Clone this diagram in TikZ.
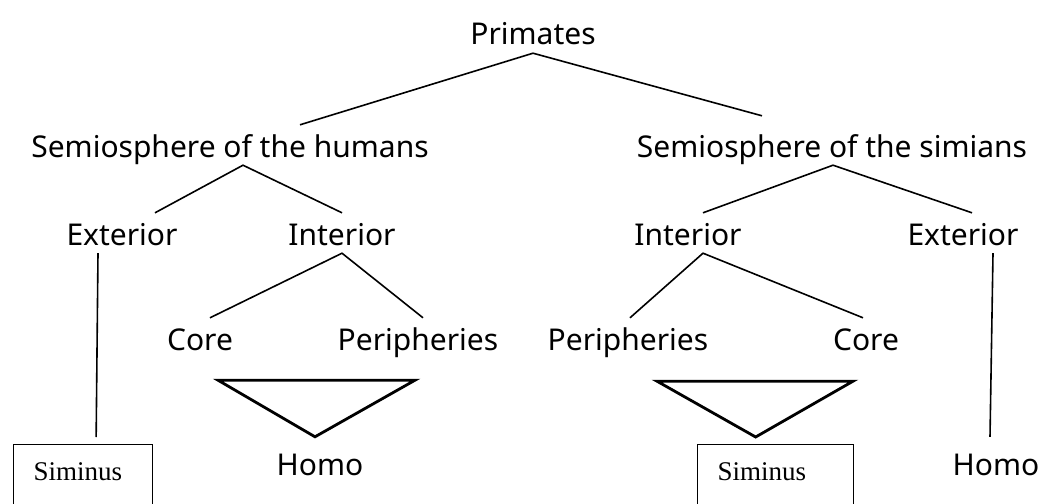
\documentclass[tikz,border=0pt]{standalone}
\usepackage{fontspec}
\setmainfont{Liberation Serif}
\newfontfamily\treefont{Noto Sans}
\tikzset{
  lbl/.style={font=\treefont\fontsize{30}{33}\selectfont, inner sep=0pt, text height=32pt, text depth=8pt, anchor=base},
  leaf/.style={draw, line width=1.3pt, font=\fontsize{27}{30}\selectfont, anchor=north west, inner xsep=20pt, inner ysep=0pt, text height=36pt, text depth=40pt, align=left},
  branch/.style={line width=1.6pt},
  wedge/.style={line width=2.8pt, line join=miter}
}
\begin{document}
\begin{tikzpicture}[x=1pt,y=-1pt]
\useasboundingbox (0,0) rectangle (1038,503);
\clip (0,0) rectangle (1038,503);
\node[lbl] (prim) at (533,45) {Primates};
\node[lbl] (hum) at (230,157) {Semiosphere of the humans};
\node[lbl] (sim) at (832,157) {Semiosphere of the simians};
\node[lbl] (extL) at (122,245) {Exterior};
\node[lbl] (intL) at (342,245) {Interior};
\node[lbl] (intR) at (688,245) {Interior};
\node[lbl] (extR) at (963,245) {Exterior};
\node[lbl] (coreL) at (200,350) {Core};
\node[lbl] (perL) at (418,350) {Peripheries};
\node[lbl] (perR) at (628,350) {Peripheries};
\node[lbl] (coreR) at (866,350) {Core};
\node[lbl] (homoL) at (320,475) {Homo};
\node[lbl] (homoR) at (996,475) {Homo};
\node[leaf, text width=99pt] (simL) at (13,444) {Siminus};
\node[leaf, text width=116pt] (simR) at (697,444) {Siminus};
\draw[branch] ([xshift=70pt]hum.north) -- (prim.south) -- ([xshift=-70pt,yshift=9pt]sim.north);
\draw[branch] ([xshift=33pt]extL.north) -- ([xshift=13pt]hum.south) -- (intL.north);
\draw[branch] ([xshift=15pt]intR.north) -- ([xshift=1pt]sim.south) -- ([xshift=9pt]extR.north);
\draw[branch] ([xshift=10pt]coreL.north) -- (intL.south) -- ([xshift=5pt]perL.north);
\draw[branch] ([xshift=2pt]perR.north) -- ([xshift=15pt]intR.south) -- ([xshift=-3pt]coreR.north);
\draw[branch] ([xshift=-24pt]extL.south) -- ([xshift=13pt,yshift=7pt]simL.north);
\draw[branch] ([xshift=30pt]extR.south) -- ([xshift=-6pt,yshift=6pt]homoR.north);
% wedges
\draw[wedge] ([xshift=18pt,yshift=-22pt]coreL.south) -- ([xshift=-3pt,yshift=-22pt]perL.south) -- ([xshift=-5pt,yshift=6pt]homoL.north) -- cycle;
\draw[wedge] ([xshift=29pt,yshift=-23pt]perR.south) -- ([xshift=-13pt,yshift=-23pt]coreR.south) -- ([xshift=-20pt,yshift=7pt]simR.north) -- cycle;
\end{tikzpicture}
\end{document}
